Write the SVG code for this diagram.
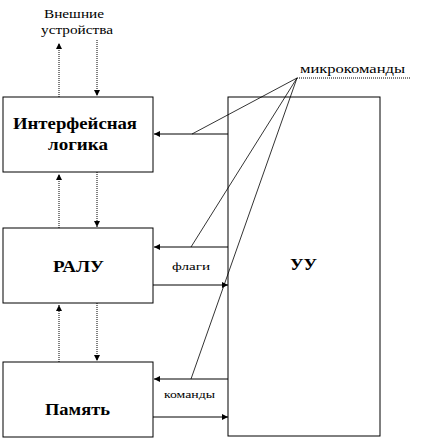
<svg xmlns="http://www.w3.org/2000/svg" width="428" height="439" viewBox="0 0 428 439">
<style>
.box{fill:#fff;stroke:#000;stroke-width:1}
.t{font-family:'Liberation Serif','Times New Roman',serif;fill:#000}
.b{font-weight:bold}
.ln{stroke:#000;stroke-width:1;fill:none}
.dot{stroke:#000;stroke-width:1;fill:none;stroke-dasharray:1 1}
.thin{stroke:#000;stroke-width:0.8;fill:none}
</style>
<defs>
<marker id="ah" viewBox="0 0 10 10" refX="10" refY="5" markerWidth="7" markerHeight="6" markerUnits="userSpaceOnUse" orient="auto">
<path d="M0,0 L10,5 L0,10 z" fill="#000"/>
</marker>
</defs>
<rect width="428" height="439" fill="#fff"/>
<text class="t" x="44" y="18" font-size="12" textLength="60" lengthAdjust="spacingAndGlyphs">Внешние</text>
<text class="t" x="41" y="34" font-size="12" textLength="72" lengthAdjust="spacingAndGlyphs">устройства</text>
<text class="t" x="300" y="73" font-size="12" textLength="105" lengthAdjust="spacingAndGlyphs">микрокоманды</text>
<g id="node-interface">
<rect class="box" x="3" y="97" width="150" height="75"/>
<text class="t b" x="13" y="129" font-size="16" textLength="124" lengthAdjust="spacingAndGlyphs">Интерфейсная</text>
<text class="t b" x="48" y="150" font-size="16" textLength="60" lengthAdjust="spacingAndGlyphs">логика</text>
</g>
<g id="node-ralu">
<rect class="box" x="3" y="228" width="150" height="75"/>
<text class="t b" x="53" y="272" font-size="17" textLength="51" lengthAdjust="spacingAndGlyphs">РАЛУ</text>
</g>
<g id="node-memory">
<rect class="box" x="3" y="362" width="150" height="75"/>
<text class="t b" x="45" y="415" font-size="17" textLength="65" lengthAdjust="spacingAndGlyphs">Память</text>
</g>
<g id="node-uu">
<rect class="box" x="228" y="97" width="152" height="339"/>
<text class="t b" x="290" y="270" font-size="17" textLength="27" lengthAdjust="spacingAndGlyphs">УУ</text>
</g>
<g id="connectors">
<line class="dot" x1="59" y1="97" x2="59" y2="43" marker-end="url(#ah)"/>
<line class="dot" x1="97" y1="40" x2="97" y2="96" marker-end="url(#ah)"/>
<line class="dot" x1="59" y1="228" x2="59" y2="174" marker-end="url(#ah)"/>
<line class="dot" x1="97" y1="172" x2="97" y2="227" marker-end="url(#ah)"/>
<line class="dot" x1="59" y1="362" x2="59" y2="305" marker-end="url(#ah)"/>
<line class="dot" x1="97" y1="303" x2="97" y2="361" marker-end="url(#ah)"/>
<line class="ln" x1="228" y1="134" x2="154" y2="134" marker-end="url(#ah)"/>
<line class="ln" x1="228" y1="247" x2="154" y2="247" marker-end="url(#ah)"/>
<line class="ln" x1="153" y1="285" x2="228" y2="285" marker-end="url(#ah)"/>
<line class="ln" x1="228" y1="379" x2="154" y2="379" marker-end="url(#ah)"/>
<line class="ln" x1="153" y1="417" x2="228" y2="417" marker-end="url(#ah)"/>
<text class="t" x="172" y="270" font-size="11" textLength="38" lengthAdjust="spacingAndGlyphs">флаги</text>
<text class="t" x="164" y="398" font-size="11" textLength="51" lengthAdjust="spacingAndGlyphs">команды</text>
<line class="dot" x1="297" y1="78" x2="411" y2="78"/>
<line class="thin" x1="297" y1="78" x2="192" y2="134"/>
<line class="thin" x1="297" y1="78" x2="191" y2="247"/>
<line class="thin" x1="297" y1="78" x2="191" y2="379"/>
</g>
</svg>
